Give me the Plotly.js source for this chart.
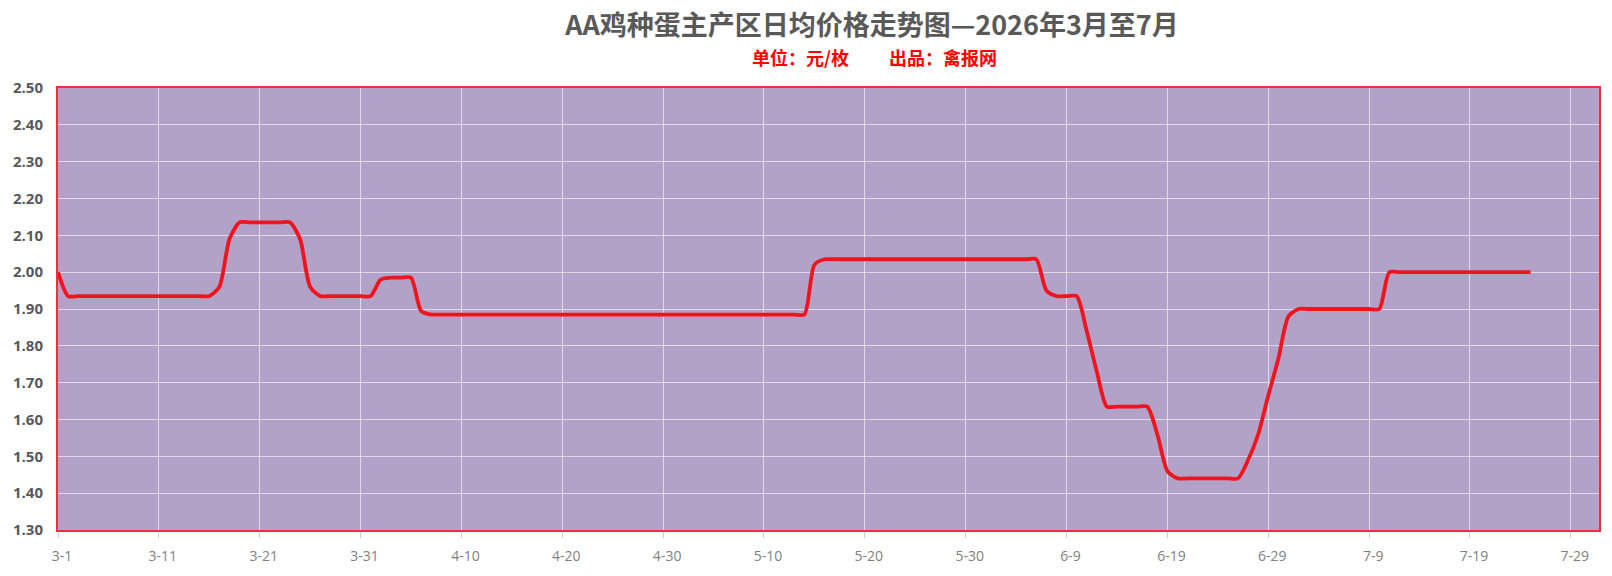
<!DOCTYPE html>
<html>
<head>
<meta charset="utf-8">
<script src="https://cdn.plot.ly/plotly-3.0.1.min.js"></script>
<style>
  html, body { margin: 0; padding: 0; background: #fff; }
  #chart { width: 1612px; height: 576px; }
</style>
</head>
<body>
<div id="chart"></div>
<script>
// daily prices, 3-1 .. 7-25 (元/枚)
let startDate = '2026-03-01'

let marchPrices = [
    2.00, 1.935, 1.935, 1.935, 1.935, 1.935, 1.935, 1.935, 1.935, 1.935,
    1.935, 1.935, 1.935, 1.935, 1.935, 1.935, 1.96, 2.09, 2.135, 2.135,
    2.135, 2.135, 2.135, 2.135, 2.09, 1.96, 1.935, 1.935, 1.935, 1.935,
    1.935
]
let aprilPrices = [
    1.935, 1.98, 1.985, 1.985, 1.985, 1.895, 1.885, 1.885, 1.885, 1.885,
    1.885, 1.885, 1.885, 1.885, 1.885, 1.885, 1.885, 1.885, 1.885, 1.885,
    1.885, 1.885, 1.885, 1.885, 1.885, 1.885, 1.885, 1.885, 1.885, 1.885
]
let mayPrices = [
    1.885, 1.885, 1.885, 1.885, 1.885, 1.885, 1.885, 1.885, 1.885, 1.885,
    1.885, 1.885, 1.885, 1.885, 2.02, 2.035, 2.035, 2.035, 2.035, 2.035,
    2.035, 2.035, 2.035, 2.035, 2.035, 2.035, 2.035, 2.035, 2.035, 2.035,
    2.035
]
let junePrices = [
    2.035, 2.035, 2.035, 2.035, 2.035, 2.035, 1.95, 1.935, 1.935, 1.935,
    1.84, 1.73, 1.635, 1.635, 1.635, 1.635, 1.635, 1.56, 1.46, 1.44,
    1.44, 1.44, 1.44, 1.44, 1.44, 1.44, 1.49, 1.56, 1.665, 1.765
]
let julyPrices = [
    1.88, 1.90, 1.90, 1.90, 1.90, 1.90, 1.90, 1.90, 1.90, 1.90,
    2.00, 2.00, 2.00, 2.00, 2.00, 2.00, 2.00, 2.00, 2.00, 2.00,
    2.00, 2.00, 2.00, 2.00, 2.00
]

let yTicks = [1.30, 1.40, 1.50, 1.60, 1.70, 1.80, 1.90, 2.00, 2.10, 2.20, 2.30, 2.40, 2.50]

let titleText = 'AA鸡种蛋主产区日均价格走势图—2026年3月至7月'
let unitText = '单位：元/枚'
let sourceText = '出品：禽报网'

let prices = [].concat(marchPrices, aprilPrices, mayPrices, junePrices, julyPrices)

let dates = []
let d = new Date(startDate + 'T00:00:00Z')
for (let i = 0; i < prices.length; i++) {
    dates.push(d.toISOString().slice(0, 10))
    d.setUTCDate(d.getUTCDate() + 1)
}

let borderRed = '#E5323C'
let gridColor = 'rgba(255,255,255,0.6)'

let trace = {
    x: dates,
    y: prices,
    type: 'scatter',
    mode: 'lines',
    line: { color: '#F0141E', width: 3.8, shape: 'spline', smoothing: 0.7 },
    hoverinfo: 'x+y'
}

let subFont = { family: 'Noto Sans CJK SC', size: 18, color: '#FF0000', weight: 'bold' }

let layout = {
    width: 1612,
    height: 576,
    margin: { l: 58, r: 13, t: 88, b: 46 },
    paper_bgcolor: '#ffffff',
    plot_bgcolor: '#B3A2C7',
    showlegend: false,
    title: {
        text: titleText,
        font: { family: 'Noto Sans CJK SC', size: 27, color: '#595959', weight: 'bold' },
        xref: 'container', yref: 'container',
        x: 872 / 1612, xanchor: 'center',
        y: 1 - 26 / 576, yanchor: 'middle'
    },
    annotations: [
        {
            text: unitText, xref: 'paper', yref: 'paper',
            x: (851 - 58) / 1541, xanchor: 'right',
            y: 1 + (88 - 57) / 442, yanchor: 'middle',
            showarrow: false, font: subFont
        },
        {
            text: sourceText, xref: 'paper', yref: 'paper',
            x: (887 - 58) / 1541, xanchor: 'left',
            y: 1 + (88 - 57) / 442, yanchor: 'middle',
            showarrow: false, font: subFont
        }
    ],
    xaxis: {
        type: 'date',
        range: ['2026-03-01', '2026-07-31 19:00'],
        tick0: '2026-03-01',
        dtick: 10 * 86400000,
        tickformat: '%-m-%-d',
        showgrid: true,
        gridcolor: gridColor,
        gridwidth: 1,
        ticks: 'outside',
        ticklen: 6,
        tickcolor: '#d0d0d0',
        ticklabelstandoff: 6,
        ticklabelshift: 4,
        tickfont: { family: 'Open Sans', size: 14, color: '#7f7f7f' },
        showline: true,
        linecolor: borderRed,
        linewidth: 2,
        mirror: true,
        zeroline: false
    },
    yaxis: {
        range: [1.30, 2.50],
        tickvals: yTicks,
        tickformat: '.2f',
        showgrid: true,
        gridcolor: gridColor,
        gridwidth: 1,
        ticks: '',
        ticklabelstandoff: 10,
        tickfont: { family: 'Open Sans', size: 15, color: '#595959', weight: 'bold' },
        showline: true,
        linecolor: borderRed,
        linewidth: 2,
        mirror: true,
        zeroline: false
    }
}

Plotly.newPlot('chart', [trace], layout, { displayModeBar: false, staticPlot: true })
</script>
</body>
</html>
